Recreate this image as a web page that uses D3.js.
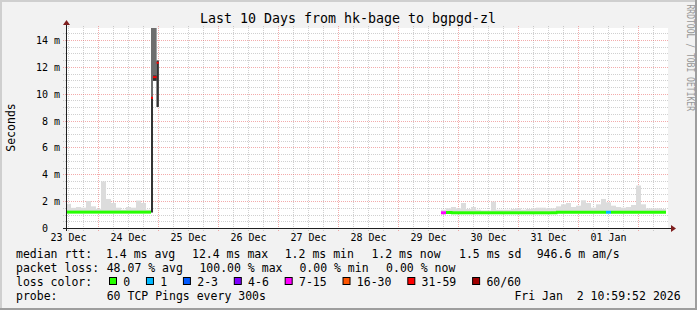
<!DOCTYPE html>
<html>
<head>
<meta charset="UTF-8" />
<title>Smokeping hk-bage to bgpgd-zl</title>
<style>
    body { margin: 0; background: #f2f2f2; }
    svg text { font-family: "DejaVu Sans Mono", monospace; white-space: pre; }
</style>
</head>
<body>
<svg id="chart" width="697" height="310"></svg>
<script src="https://cdn.jsdelivr.net/npm/d3@7/dist/d3.min.js"></script>
<script>
// ---- data (ms) ----
const title = "Last 10 Days from hk-bage to bgpgd-zl";
const startTime = new Date(2025, 11, 23, 10, 59, 52);
const endTime = new Date(2026, 0, 2, 10, 59, 52);
const bucketHours = 2;

// first block: buckets 0..16 (Dec 23 11:00 -> Dec 24 21:00)
const firstA = 0;
const medA = [1.22, 1.22, 1.22, 1.22, 1.22, 1.22, 1.22, 1.22, 1.22, 1.22, 1.22, 1.22, 1.22, 1.22, 1.22, 1.22, 1.22];
const topA = [1.84, 1.54, 1.6, 1.55, 2.05, 1.65, 1.47, 3.5, 2.2, 1.9, 1.55, 1.4, 1.6, 1.55, 2.08, 1.9, 1.4];
const lossA = [0, 0, 0, 0, 0, 0, 0, 0, 0, 0, 0, 0, 0, 0, 0, 0, 0];

// second block: buckets 75..119 (Dec 29 17:00 -> Jan 2 11:00)
const firstB = 75;
const medB = [1.17, 1.2, 1.17, 1.17, 1.17, 1.17, 1.17, 1.17, 1.17, 1.17, 1.17, 1.17, 1.17, 1.17, 1.17,
    1.17, 1.17, 1.17, 1.17, 1.17, 1.17, 1.17, 1.17, 1.21, 1.21, 1.21, 1.21, 1.21, 1.21, 1.21,
    1.21, 1.21, 1.21, 1.21, 1.21, 1.21, 1.21, 1.21, 1.21, 1.21, 1.21, 1.21, 1.21, 1.21, 1.21];
const topB = [1.4, 1.5, 1.6, 1.5, 1.9, 1.45, 1.6, 1.4, 1.35, 1.35, 2.0, 1.4, 1.4, 1.4, 1.45,
    1.5, 1.4, 1.45, 1.5, 1.55, 1.55, 1.5, 1.5, 1.65, 1.8, 1.9, 1.6, 1.7, 2.1, 1.9,
    1.55, 1.8, 2.2, 1.95, 1.7, 1.6, 1.55, 1.6, 1.75, 3.2, 1.8, 1.5, 1.5, 1.5, 1.45];
const lossB = [4, 0, 0, 0, 0, 0, 0, 0, 0, 0, 0, 0, 0, 0, 0,
    0, 0, 0, 0, 0, 0, 0, 0, 0, 0, 0, 0, 0, 0, 0,
    0, 0, 0, 1, 0, 0, 0, 0, 0, 0, 0, 0, 0, 0, 0];

// the burst before the outage
const spikeTimes = [new Date(2025, 11, 24, 21, 0), new Date(2025, 11, 24, 21, 48),
    new Date(2025, 11, 24, 23, 15), new Date(2025, 11, 25, 0, 5)];
const spikeMed = [9.73, 11.27, 12.34];
const spikeLo = [1.2, 11.0, 9.05];
const spikeHi = [15, 15, 12.5];
const spikeCoreLo = [1.2, 11.0, 9.05];
const spikeCoreHi = [9.7, 11.4, 12.5];
const spikeLoss = [6, 6, 6];

const lossLabels = ["0", "1", "2-3", "4-6", "7-15", "16-30", "31-59", "60/60"];
const lossColors = ["#26ff00", "#00b8ff", "#0059ff", "#7e00ff", "#ff00ff", "#ff5500", "#ff0000", "#a10000"];

const rttLine = ["median rtt:", "1.4 ms avg", "12.4 ms max", "1.2 ms min", "1.2 ms now", "1.5 ms sd", "946.6 m am/s"];
const lossLine = ["packet loss:", "48.07 % avg", "100.00 % max", "0.00 % min", "0.00 % now"];
const probeLine = ["probe:", "60 TCP Pings every 300s"];
const stamp = "Fri Jan  2 10:59:52 2026";
const yMax = 14.93;

// ---- drawing ----
const svg = d3.select("#chart");
const W = 697, H = 310;

let x = d3.scaleTime().domain([startTime, endTime]).range([66, 666]);
let y = d3.scaleLinear().domain([0, yMax]).range([228.5, 28]);

// background + 3d frame
svg.append("rect").attr("width", W).attr("height", H).attr("fill", "#f2f2f2");
svg.append("path").attr("d", `M1,${H} V1 H${W}`).attr("fill", "none").attr("stroke", "#cfcfcf").attr("stroke-width", 2);
svg.append("path").attr("d", `M0,${H - 1} H${W - 1} V0`).attr("fill", "none").attr("stroke", "#9e9e9e").attr("stroke-width", 2);

// canvas
svg.append("rect").attr("x", 66).attr("y", 28).attr("width", 602).attr("height", 200).attr("fill", "#fff");

// grid
const grid = svg.append("g").attr("shape-rendering", "crispEdges").attr("stroke-dasharray", "1,1");
const minorCol = "rgba(143,143,143,0.42)", majorCol = "rgba(230,80,80,0.48)";

let hours6 = d3.timeHour.every(6).range(startTime, endTime).filter(d => d.getHours() != 0);
let days = d3.timeDay.range(startTime, endTime);
grid.selectAll(".vmin").data(hours6).enter().append("line")
    .attr("x1", d => Math.floor(x(d)) + 0.5).attr("x2", d => Math.floor(x(d)) + 0.5)
    .attr("y1", 26).attr("y2", 231).attr("stroke", minorCol);
grid.selectAll(".vmaj").data(days).enter().append("line")
    .attr("x1", d => Math.floor(x(d)) + 0.5).attr("x2", d => Math.floor(x(d)) + 0.5)
    .attr("y1", 26).attr("y2", 231).attr("stroke", majorCol);

let yMinor = d3.range(0.5, yMax, 0.5).filter(v => v % 2 != 0);
let yMajor = d3.range(2, yMax, 2);
grid.selectAll(".hmin").data(yMinor).enter().append("line")
    .attr("x1", 63).attr("x2", 669)
    .attr("y1", d => Math.floor(y(d)) + 0.5).attr("y2", d => Math.floor(y(d)) + 0.5)
    .attr("stroke", minorCol);
grid.selectAll(".hmaj").data(yMajor).enter().append("line")
    .attr("x1", 63).attr("x2", 669)
    .attr("y1", d => Math.floor(y(d)) + 0.5).attr("y2", d => Math.floor(y(d)) + 0.5)
    .attr("stroke", majorCol);

// buckets -> records
function bucketTime(k) { return d3.timeHour.offset(startTime, k * bucketHours); }
function toRecords(first, med, top, loss) {
    return med.map((m, i) => ({ t0: bucketTime(first + i), t1: bucketTime(first + i + 1), med: m, top: top[i], loss: loss[i] }));
}
let blocks = [toRecords(firstA, medA, topA, lossA), toRecords(firstB, medB, topB, lossB)];

let plot = svg.append("g");

// smoke
blocks.forEach(recs => {
    plot.append("g").selectAll("rect").data(recs).enter().append("rect")
        .attr("x", d => x(d.t0)).attr("width", d => x(d.t1) - x(d.t0))
        .attr("y", d => y(d.top)).attr("height", d => y(d.med) - y(d.top))
        .attr("fill", "#dcdcdc");
});

let spike = spikeMed.map((m, i) => ({
    t0: spikeTimes[i], t1: spikeTimes[i + 1], med: m, lo: spikeLo[i], hi: Math.min(spikeHi[i], yMax),
    clo: spikeCoreLo[i], chi: spikeCoreHi[i], loss: spikeLoss[i]
}));
plot.append("g").selectAll("rect").data(spike).enter().append("rect")
    .attr("x", d => x(d.t0)).attr("width", d => x(d.t1) - x(d.t0))
    .attr("y", d => y(d.hi)).attr("height", d => y(d.lo) - y(d.hi))
    .attr("fill", "#6e6e6e");
plot.append("g").selectAll("rect").data(spike).enter().append("rect")
    .attr("x", d => x(d.t0)).attr("width", d => x(d.t1) - x(d.t0))
    .attr("y", d => y(d.chi)).attr("height", d => y(d.clo) - y(d.chi))
    .attr("fill", "#333");

// median line, coloured by loss
function medianPath(d, i, recs, join) {
    let p = `M${x(d.t0)},${y(d.med)}H${x(d.t1)}`;
    let n = recs[i + 1];
    if (join && n && n.loss == d.loss) p += `V${y(n.med)}`;
    return p;
}
blocks.forEach(recs => {
    plot.append("g").selectAll("path").data(recs).enter().append("path")
        .attr("d", (d, i) => medianPath(d, i, recs, true))
        .attr("fill", "none").attr("stroke", d => lossColors[d.loss]).attr("stroke-width", 3);
});
// burst samples are far apart in value: just short marks
plot.append("g").selectAll("path").data(spike).enter().append("path")
    .attr("d", (d, i) => medianPath(d, i, spike, false))
    .attr("fill", "none").attr("stroke", d => lossColors[d.loss]).attr("stroke-width", 2);

// axes
const axisCol = "#1f1f1f", arrowCol = "#7f1f1f";
svg.append("line").attr("x1", 63).attr("x2", 672).attr("y1", 228.5).attr("y2", 228.5).attr("stroke", axisCol);
svg.append("line").attr("x1", 66.5).attr("x2", 66.5).attr("y1", 231).attr("y2", 24).attr("stroke", axisCol);
svg.append("path").attr("d", "M671,225 L676,228.5 L671,232 Z").attr("fill", arrowCol);
svg.append("path").attr("d", "M63,25 L66.5,20 L70,25 Z").attr("fill", arrowCol);

// axis labels
const axisFont = "10px";
svg.append("g").selectAll("text").data(d3.range(0, yMax, 2)).enter().append("text")
    .attr("xml:space", "preserve")
    .attr("x", 60).attr("y", d => Math.floor(y(d)) + 4)
    .attr("text-anchor", "end").attr("font-size", axisFont)
    .text(d => d == 0 ? "0  " : d + " m");

let labelDays = d3.timeDay.range(d3.timeDay.floor(startTime), endTime)
    .map(d => d3.timeHour.offset(d, 12)).filter(d => d <= endTime);
svg.append("g").selectAll("text").data(labelDays).enter().append("text")
    .attr("x", d => x(d)).attr("y", 241)
    .attr("text-anchor", "middle").attr("font-size", axisFont)
    .text(d3.timeFormat("%d %b"));

svg.append("text").attr("transform", "translate(15,127.5) rotate(-90)")
    .attr("text-anchor", "middle").attr("font-size", "11.5px").text("Seconds");

svg.append("text").attr("x", 348).attr("y", 23.3)
    .attr("text-anchor", "middle").attr("font-size", "13.3px").text(title);

svg.append("text").attr("transform", "translate(687,4.5) rotate(90)")
    .attr("font-size", "11px").attr("fill", "#999")
    .attr("textLength", 106.5).attr("lengthAdjust", "spacingAndGlyphs")
    .text("RRDTOOL / TOBI OETIKER");

// legend
const lf = "11.5px", cw = 6.96;
function legendRow(items, xs, yb) {
    svg.append("g").selectAll("text").data(items).enter().append("text")
        .attr("xml:space", "preserve")
        .attr("x", (d, i) => xs[i]).attr("y", yb).attr("font-size", lf).text(d => d);
}
legendRow(rttLine, [16, 106, 192, 284.7, 371.4, 459, 536.7], 258);
legendRow(lossLine, [16, 106.7, 199.4, 299.4, 386.1], 272);
legendRow(["loss color:"], [16], 286);
legendRow(probeLine, [16, 106.7], 300);
svg.append("text").attr("xml:space", "preserve")
    .attr("x", 680.6).attr("y", 300).attr("text-anchor", "end").attr("font-size", lf).text(stamp);

let sx = [];
lossLabels.reduce((pos, l) => { sx.push(pos); return pos + 30 + l.length * cw; }, 109);
let sw = svg.append("g").selectAll("g").data(lossLabels).enter().append("g");
sw.append("rect")
    .attr("x", (d, i) => sx[i] + 0.5).attr("y", 277.5).attr("width", 7).attr("height", 7)
    .attr("fill", (d, i) => lossColors[i]).attr("stroke", "#000");
sw.append("text")
    .attr("x", (d, i) => sx[i] + 14.3).attr("y", 286).attr("font-size", lf).text(d => d);
</script>
</body>
</html>
